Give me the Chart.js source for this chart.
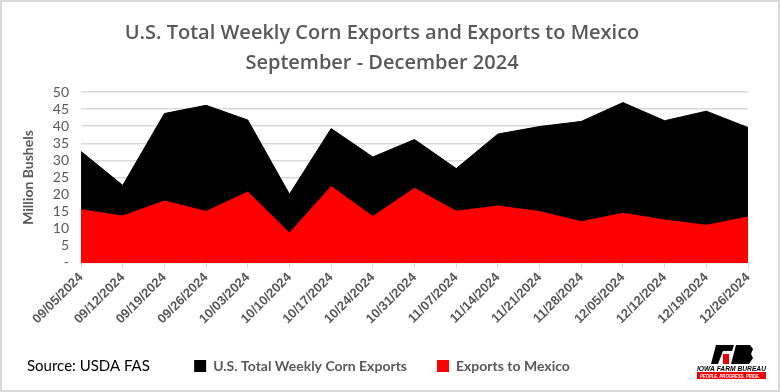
<!DOCTYPE html>
<html>
<head>
<meta charset="utf-8">
<script src="https://cdn.jsdelivr.net/npm/chart.js@4"></script>
<style>
html,body{margin:0;padding:0;background:#fff;}
#wrap{width:780px;height:392px;}
</style>
</head>
<body>
<div id="wrap"><canvas id="c" width="780" height="392"></canvas></div>
<script>
const categories = ["09/05/2024","09/12/2024","09/19/2024","09/26/2024","10/03/2024","10/10/2024","10/17/2024","10/24/2024","10/31/2024","11/07/2024","11/14/2024","11/21/2024","11/28/2024","12/05/2024","12/12/2024","12/19/2024","12/26/2024"];
const totalExports = [32.6,22.7,43.7,46.1,41.8,20.1,39.3,31.0,36.1,27.6,37.7,39.9,41.4,46.9,41.6,44.4,39.6];
const mexicoExports = [15.7,13.9,18.3,15.2,20.9,8.9,22.5,13.7,22.0,15.3,16.8,15.2,12.2,14.7,12.7,11.2,13.6];
const titleLines = ["U.S. Total Weekly Corn Exports and Exports to Mexico","September - December 2024"];
const yTitle = "Million Bushels";
const sourceText = "Source: USDA FAS";

function fitText(ctx, text, x, y, w) {
  const m = ctx.measureText(text).width;
  ctx.save();
  ctx.translate(x, y);
  ctx.scale(w / m, 1);
  ctx.fillText(text, 0, 0);
  ctx.restore();
}

const extras = {
  id: 'extras',
  beforeDraw(chart) {
    const ctx = chart.ctx;
    ctx.save();
    ctx.fillStyle = '#fff';
    ctx.fillRect(0, 0, chart.width, chart.height);
    ctx.restore();
  },
  afterDraw(chart) {
    const ctx = chart.ctx;
    ctx.save();
    ctx.strokeStyle = '#d9d9d9';
    ctx.lineWidth = 2;
    ctx.strokeRect(1, 1, chart.width - 2, chart.height - 2);
    // source
    const lg = chart.legend;
    const hb = lg.legendHitBoxes;
    const ly = hb.length ? hb[0].top + hb[0].height / 2 : lg.top + lg.height / 2;
    ctx.fillStyle = '#000';
    ctx.font = '15px Lato';
    ctx.textBaseline = 'middle';
    ctx.textAlign = 'left';
    ctx.fillText(sourceText, 27, ly);
    // logo
    const lx = 697, ty = 345;
    ctx.fillStyle = '#000';
    ctx.beginPath();
    ctx.moveTo(lx + 19, ty); ctx.lineTo(lx + 37, ty); ctx.lineTo(lx + 35, ty + 6); ctx.lineTo(lx + 26, ty + 6);
    ctx.lineTo(lx + 21, ty + 19); ctx.lineTo(lx + 14, ty + 19); ctx.closePath(); ctx.fill();
    ctx.fillStyle = '#e00';
    ctx.fillRect(lx + 26, ty + 9, 6, 10);
    ctx.fillStyle = '#000';
    ctx.beginPath();
    ctx.moveTo(lx + 39, ty); ctx.lineTo(lx + 53, ty); ctx.lineTo(lx + 56, ty + 4); ctx.lineTo(lx + 54, ty + 9);
    ctx.lineTo(lx + 56, ty + 13); ctx.lineTo(lx + 52, ty + 19); ctx.lineTo(lx + 34, ty + 19); ctx.closePath(); ctx.fill();
    ctx.font = 'italic bold 8px "Liberation Sans"';
    ctx.textAlign = 'left';
    ctx.textBaseline = 'alphabetic';
    fitText(ctx, 'IOWA FARM BUREAU', lx, ty + 26, 69);
    ctx.fillStyle = '#e00';
    ctx.fillRect(lx, ty + 27, 69, 7);
    ctx.fillStyle = '#fff';
    ctx.font = 'italic bold 5px "Liberation Sans"';
    fitText(ctx, 'PEOPLE. PROGRESS. PRIDE.', lx + 3, ty + 32.5, 60);
    ctx.restore();
  }
};

new Chart(document.getElementById('c'), {
  type: 'line',
  data: {
    labels: categories,
    datasets: [
      {
        label: 'U.S. Total Weekly Corn Exports',
        data: totalExports,
        backgroundColor: '#000',
        borderColor: '#000',
        borderWidth: 1,
        fill: 'origin',
        pointRadius: 0,
        tension: 0,
        order: 1
      },
      {
        label: 'Exports to Mexico',
        data: mexicoExports,
        backgroundColor: '#ff0000',
        borderColor: '#ff0000',
        borderWidth: 0,
        fill: 'origin',
        pointRadius: 0,
        tension: 0,
        order: 0
      }
    ]
  },
  options: {
    responsive: false,
    animation: false,
    layout: { padding: { left: 16, right: 32, top: 0, bottom: 9 } },
    plugins: {
      title: {
        display: true,
        text: titleLines,
        color: '#595959',
        font: { family: 'Open Sans', size: 20, weight: '600', lineHeight: 1.5 },
        padding: { top: 18, bottom: 14 }
      },
      legend: {
        position: 'bottom',
        labels: {
          color: '#595959',
          font: { family: 'Lato', size: 14, weight: 'bold' },
          boxWidth: 12,
          boxHeight: 12,
          padding: 30,
          generateLabels: (chart) => chart.data.datasets.map((d, i) => ({
            text: d.label, fillStyle: d.backgroundColor, strokeStyle: d.backgroundColor,
            lineWidth: 0, datasetIndex: i, fontColor: '#595959'
          }))
        }
      },
      tooltip: { enabled: false }
    },
    scales: {
      x: {
        offset: false,
        grid: { drawOnChartArea: false, drawTicks: true, tickLength: 5, color: '#d9d9d9' },
        border: { color: '#d9d9d9' },
        ticks: {
          color: '#595959',
          font: { family: 'Liberation Sans', size: 13, weight: 'bold' },
          maxRotation: 45, minRotation: 45, autoSkip: false, padding: 2
        }
      },
      y: {
        min: 0, max: 50,
        ticks: {
          stepSize: 5,
          autoSkip: false,
          color: '#595959',
          font: { family: 'Lato', size: 14 },
          padding: 12,
          callback: (v) => v === 0 ? '-' : v
        },
        grid: { color: '#d9d9d9', drawTicks: false, lineWidth: 1.5 },
        border: { display: false },
        title: {
          display: true, text: yTitle, color: '#595959',
          font: { family: 'Lato', size: 14, weight: 'bold' }, padding: { bottom: 4 }
        }
      }
    }
  },
  plugins: [extras]
});
</script>
</body>
</html>
